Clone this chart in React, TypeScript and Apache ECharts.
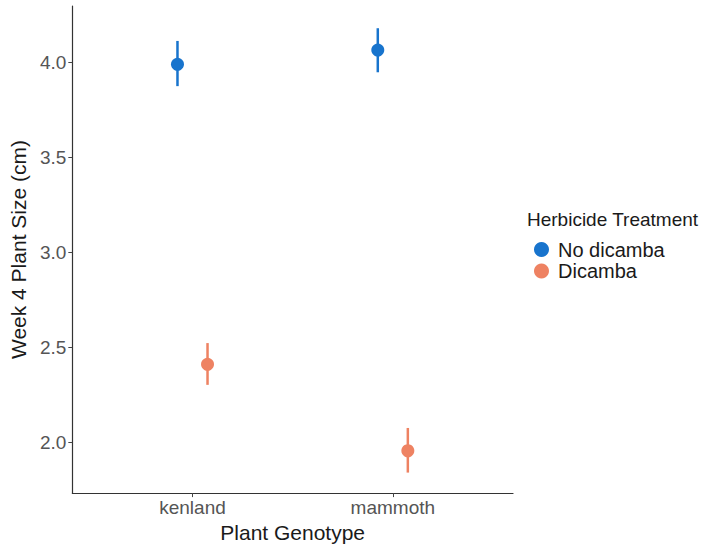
import React, { useEffect, useRef } from "react";
import * as echarts from "echarts";

// Plant genotypes on the x axis
const genotypes = ["kenland", "mammoth"];

// Week 4 plant size (cm): means and interval bounds per genotype
const noDicambaMean = [3.99, 4.065];
const noDicambaLow = [3.875, 3.948];
const noDicambaHigh = [4.113, 4.18];

const dicambaMean = [2.41, 1.955];
const dicambaLow = [2.302, 1.84];
const dicambaHigh = [2.522, 2.075];

const yTicks = [2.0, 2.5, 3.0, 3.5, 4.0];

const BLUE = "#1874CD";
const ORANGE = "#EE8262";
const FONT = "Liberation Sans";
const DODGE = 0.075;

function pointData(means: number[], offset: number) {
  return means.map((m, i) => [i + 1 + offset, m]);
}

function barData(low: number[], high: number[], offset: number) {
  return low.map((l, i) => [i + 1 + offset, l, high[i]]);
}

function errorBarSeries(name: string, data: number[][], color: string) {
  return {
    name,
    type: "custom",
    z: 1,
    data,
    renderItem: (_params: any, api: any) => {
      const x = api.value(0);
      const p1 = api.coord([x, api.value(1)]);
      const p2 = api.coord([x, api.value(2)]);
      return {
        type: "line",
        shape: { x1: p1[0], y1: p1[1], x2: p2[0], y2: p2[1] },
        style: { stroke: color, lineWidth: 2.5 },
      };
    },
  };
}

export default function App() {
  const ref = useRef<HTMLDivElement>(null);

  useEffect(() => {
    if (!ref.current) return;
    const chart = echarts.init(ref.current, undefined, { renderer: "svg" });
    chart.setOption({
      animation: false,
      backgroundColor: "#ffffff",
      grid: { left: 71, right: 194, top: 6, bottom: 54 },
      xAxis: {
        type: "value",
        min: 0.4,
        max: 2.6,
        name: "Plant Genotype",
        nameLocation: "middle",
        nameGap: 26,
        nameTextStyle: { fontFamily: FONT, fontSize: 21, color: "#1a1a1a" },
        splitLine: { show: false },
        axisLine: { onZero: false, lineStyle: { color: "#333", width: 1.2 } },
        axisTick: {
          customValues: [1, 2],
          length: 4,
          lineStyle: { color: "#444", width: 1 },
        },
        axisLabel: {
          customValues: [1, 2],
          formatter: (v: number) => genotypes[Math.round(v) - 1] ?? "",
          fontFamily: FONT,
          fontSize: 19,
          color: "#555",
          margin: 5,
        },
      },
      yAxis: {
        type: "value",
        min: 1.732,
        max: 4.297,
        name: "Week 4 Plant Size (cm)",
        nameLocation: "middle",
        nameGap: 32,
        nameTextStyle: { fontFamily: FONT, fontSize: 21, color: "#1a1a1a" },
        splitLine: { show: false },
        axisLine: { show: true, onZero: false, lineStyle: { color: "#333", width: 1.2 } },
        axisTick: {
          show: true,
          customValues: yTicks,
          length: 4,
          lineStyle: { color: "#444", width: 1 },
        },
        axisLabel: {
          customValues: yTicks,
          formatter: (v: number) => v.toFixed(1),
          fontFamily: FONT,
          fontSize: 19,
          color: "#555",
          margin: 6,
        },
      },
      legend: {
        data: [
          { name: "No dicamba", icon: "circle" },
          { name: "Dicamba", icon: "circle" },
        ],
        orient: "vertical",
        left: 529,
        top: 234.5,
        itemWidth: 15,
        itemHeight: 15,
        itemGap: 1.5,
        selectedMode: false,
        textStyle: {
          fontFamily: FONT,
          fontSize: 20,
          lineHeight: 20,
          color: "#1a1a1a",
          padding: [0, 0, 0, 4],
        },
      },
      graphic: [
        {
          type: "text",
          left: 527,
          top: 210,
          style: {
            text: "Herbicide Treatment",
            fontFamily: FONT,
            fontSize: 19,
            fill: "#1a1a1a",
          },
        },
      ],
      series: [
        errorBarSeries("No dicamba range", barData(noDicambaLow, noDicambaHigh, -DODGE), BLUE),
        errorBarSeries("Dicamba range", barData(dicambaLow, dicambaHigh, DODGE), ORANGE),
        {
          name: "No dicamba",
          type: "scatter",
          z: 2,
          symbol: "circle",
          symbolSize: 13,
          itemStyle: { color: BLUE, opacity: 1 },
          data: pointData(noDicambaMean, -DODGE),
        },
        {
          name: "Dicamba",
          type: "scatter",
          z: 2,
          symbol: "circle",
          symbolSize: 13,
          itemStyle: { color: ORANGE, opacity: 1 },
          data: pointData(dicambaMean, DODGE),
        },
      ],
    });
    return () => chart.dispose();
  }, []);

  return (
    <div
      ref={ref}
      style={{ position: "fixed", left: 0, top: 0, width: 707, height: 548 }}
    />
  );
}
